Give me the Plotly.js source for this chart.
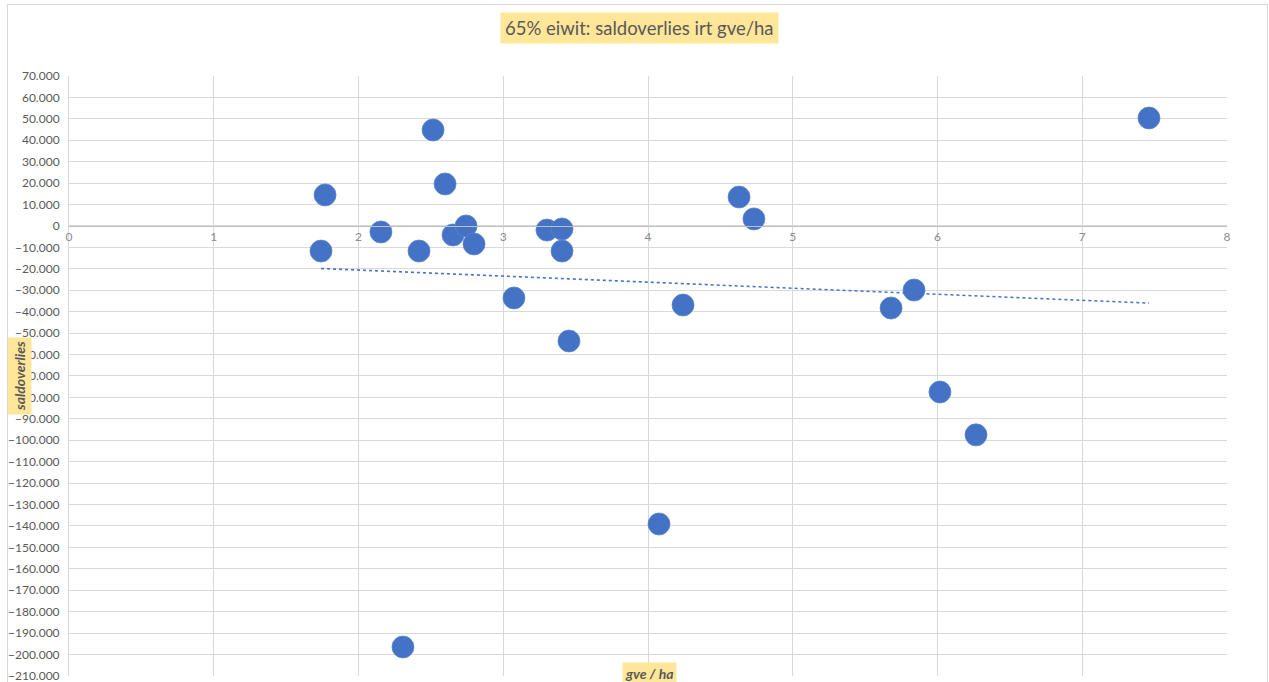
<!DOCTYPE html>
<html>
<head>
<meta charset="utf-8">
<script src="https://cdn.plot.ly/plotly-3.0.1.min.js"></script>
<style>
html,body{margin:0;padding:0;background:#fff;}
#wrap{position:relative;width:1269px;height:682px;}
#chart{position:absolute;left:0;top:0;width:1269px;height:682px;}
#frame{position:absolute;left:7px;top:4px;width:1259px;height:690px;border:1px solid #d9d9d9;pointer-events:none;}
</style>
</head>
<body>
<div id="wrap"><div id="chart"></div><div id="frame"></div></div>
<script>
const gveHa = [1.741, 1.769, 2.155, 2.418, 2.515, 2.598, 2.653, 2.743, 2.798, 3.074, 3.302, 3.406, 3.406, 3.454, 4.076, 4.242, 4.629, 4.732, 5.679, 5.838, 6.017, 6.266, 7.461, 2.307];
const saldoverlies = [-11700, 14500, -2800, -11700, 44800, 19600, -4200, 0, -8400, -33600, -1900, -1400, -11700, -53700, -139100, -36900, 13500, 3300, -38300, -29900, -77500, -97500, 50400, -196500];
const xTicks = [0, 1, 2, 3, 4, 5, 6, 7, 8];
const titleText = "65% eiwit: saldoverlies irt gve/ha";
const xTitle = "gve / ha";
const yTitle = "saldoverlies";

// linear trendline (least squares, like Excel)
const n = gveHa.length;
const mx = gveHa.reduce((a,b)=>a+b,0)/n;
const my = saldoverlies.reduce((a,b)=>a+b,0)/n;
let sxy=0, sxx=0;
for (let i=0;i<n;i++){ sxy += (gveHa[i]-mx)*(saldoverlies[i]-my); sxx += (gveHa[i]-mx)**2; }
const slope = sxy/sxx, icpt = my - slope*mx;
const xmin = Math.min(...gveHa), xmax = Math.max(...gveHa);
const trendX = [xmin, xmax];
const trendY = trendX.map(x => icpt + slope*x);

const font = "Lato, 'Open Sans', sans-serif";
const data = [
  {x: gveHa, y: saldoverlies, type:'scatter', mode:'markers',
   marker:{color:'#4472C4', size:22, line:{color:'#5b84cc', width:0.75}}, hoverinfo:'x+y'},
  {x: trendX, y: trendY, type:'scatter', mode:'lines',
   line:{color:'#4472C4', width:1.6, dash:'dot'}, hoverinfo:'skip'}
];
const layout = {
  width:1269, height:682,
  margin:{l:69, r:42, t:76, b:6},
  paper_bgcolor:'rgba(0,0,0,0)', plot_bgcolor:'#fff',
  showlegend:false,
  separators:',.',
  font:{family:font, size:12, color:'#595959'},
  xaxis:{range:[0,8], tickvals:xTicks, ticktext:xTicks.map(String),
    anchor:'free', position:0.75, showgrid:true, gridcolor:'#d9d9d9', gridwidth:1,
    zeroline:false, showline:true, linecolor:'#bfbfbf', linewidth:1,
    ticks:'', tickfont:{family:font, size:12, color:'#8c8c8c'}, fixedrange:true},
  yaxis:{range:[-210050,70000], dtick:10000, tick0:0, tickformat:',d', ticklabeloverflow:'allow',
    showgrid:true, gridcolor:'#d9d9d9', gridwidth:1, zeroline:false,
    showline:true, linecolor:'#d9d9d9', ticks:'outside', ticklen:6, tickcolor:'rgba(0,0,0,0)',
    tickfont:{family:font, size:12, color:'#595959'}, fixedrange:true},
  annotations:[
    {text:titleText, xref:'paper', yref:'paper', x:(639-69)/1158, y:1+(76-28)/600, showarrow:false,
     font:{family:font, size:18.5, color:'#595959'}, bgcolor:'#FFE699', borderpad:4, xanchor:'center', yanchor:'middle'},
    {text:'<b><i>'+xTitle+'</i></b>', xref:'paper', yref:'paper', x:(649-69)/1158, y:-(673-676)/600, showarrow:false,
     font:{family:font, size:14, color:'#595959'}, bgcolor:'#FFE699', borderpad:2, xanchor:'center', yanchor:'middle'},
    {text:'<b><i>'+yTitle+'</i></b>', xref:'paper', yref:'paper', x:(19-69)/1158, y:(676-376)/600, showarrow:false, textangle:-90,
     font:{family:font, size:14, color:'#595959'}, bgcolor:'#FFE699', borderpad:3, xanchor:'center', yanchor:'middle'}
  ]
};
Plotly.newPlot('chart', data, layout, {displayModeBar:false, staticPlot:true});
</script>
</body>
</html>
